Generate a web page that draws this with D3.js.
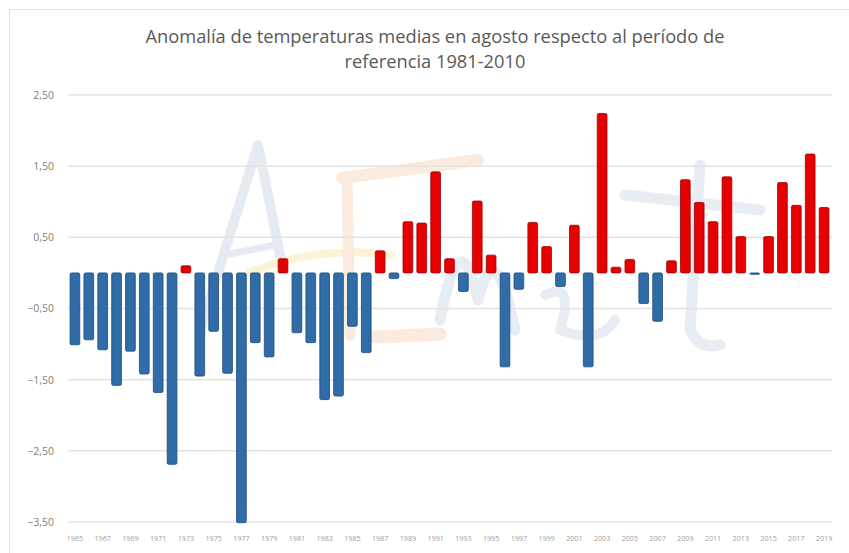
<!DOCTYPE html>
<html>
<head>
<meta charset="utf-8">
<script src="https://cdn.jsdelivr.net/npm/d3@7"></script>
<style>
  body { margin: 0; background: #fff; }
  text { font-family: "Open Sans", "DejaVu Sans", sans-serif; }
</style>
</head>
<body>
<script>
// anomalias agosto, respecto 1981-2010
var years = d3.range(1965, 2020);
var anomalies = [
  -1.01, -0.94, -1.08, -1.58, -1.10, -1.42, -1.68, -2.69, 0.10, -1.45,
  -0.82, -1.41, -3.51, -0.98, -1.18, 0.20, -0.84, -0.98, -1.78, -1.73,
  -0.75, -1.12, 0.31, -0.08, 0.72, 0.70, 1.42, 0.20, -0.26, 1.01,
  0.25, -1.32, -0.23, 0.71, 0.37, -0.19, 0.67, -1.32, 2.24, 0.08,
  0.19, -0.43, -0.68, 0.17, 1.31, 0.99, 0.72, 1.35, 0.51, -0.02,
  0.51, 1.27, 0.95, 1.67, 0.92
];
var yTicks = [-3.5, -2.5, -1.5, -0.5, 0.5, 1.5, 2.5];
var xLabels = years.filter(function(y, i) { return i % 2 == 0; });
var titleLines = ["Anomalía de temperaturas medias en agosto respecto al período de", "referencia 1981-2010"];

var width = 849, height = 553;
var svg = d3.select("body").append("svg")
    .attr("width", width)
    .attr("height", height);

// marco
svg.append("rect")
    .attr("x", 9.5).attr("y", 9.5)
    .attr("width", width + 20).attr("height", height + 20)
    .attr("fill", "none")
    .attr("stroke", "#e4e4e4");

// marca de agua (logo muy tenue)
var wm = svg.append("g").attr("fill", "none").attr("opacity", 0.55)
    .attr("stroke-linecap", "round").attr("stroke-linejoin", "round");
wm.append("path").attr("d", "M200,330 L258,145 L282,265").attr("stroke", "#d3dcea").attr("stroke-width", 10);
wm.append("path").attr("d", "M225,255 L275,245").attr("stroke", "#d3dcea").attr("stroke-width", 7);
wm.append("path").attr("d", "M250,272 Q320,245 390,255").attr("stroke", "#fbe9b5").attr("stroke-width", 8);
wm.append("path").attr("d", "M342,178 L478,160").attr("stroke", "#f8d9c4").attr("stroke-width", 12);
wm.append("path").attr("d", "M347,180 L350,335").attr("stroke", "#f8d9c4").attr("stroke-width", 11);
wm.append("path").attr("d", "M375,337 L440,334").attr("stroke", "#f8d9c4").attr("stroke-width", 13);
wm.append("path").attr("d", "M440,320 Q460,215 478,300 Q495,230 515,330").attr("stroke", "#d7dfeb").attr("stroke-width", 11);
wm.append("path").attr("d", "M545,295 Q575,280 560,330 Q600,345 615,320").attr("stroke", "#d7dfeb").attr("stroke-width", 10);
wm.append("path").attr("d", "M700,165 L690,330 Q700,350 720,345").attr("stroke", "#d7dfeb").attr("stroke-width", 11);
wm.append("path").attr("d", "M625,195 L760,210").attr("stroke", "#d7dfeb").attr("stroke-width", 11);

var x = d3.scaleBand()
    .domain(years)
    .range([68, 831])
    .paddingInner(0.3)
    .paddingOuter(0.15);

var y = d3.scaleLinear()
    .domain([-3.5, 2.5])
    .range([522, 95]);

// rejilla
svg.append("g").selectAll("line")
  .data(yTicks)
  .enter().append("line")
    .attr("x1", 68).attr("x2", 832)
    .attr("y1", function(d) { return y(d); })
    .attr("y2", function(d) { return y(d); })
    .attr("stroke", "#e3e3e3")
    .attr("stroke-width", 1.5);

var yAxis = svg.append("g")
    .attr("transform", "translate(60,0)")
    .call(d3.axisLeft(y).tickValues(yTicks).tickSize(0).tickPadding(6)
      .tickFormat(function(d) { return d3.format(".2f")(d).replace(".", ","); }));
yAxis.select(".domain").remove();
yAxis.selectAll("text")
    .attr("fill", "#7f7f7f")
    .attr("font-size", "10.5px");

var xAxis = svg.append("g")
    .attr("transform", "translate(0,531)")
    .call(d3.axisBottom(x).tickValues(xLabels).tickSize(0).tickPadding(5));
xAxis.select(".domain").remove();
xAxis.selectAll("text")
    .attr("fill", "#a0a0a0")
    .attr("font-size", "7.2px");

// barras
var data = years.map(function(yr, i) { return {year: yr, value: anomalies[i]}; });
svg.append("g").selectAll("rect")
  .data(data)
  .enter().append("rect")
    .attr("x", function(d) { return x(d.year); })
    .attr("width", x.bandwidth())
    .attr("y", function(d) { return y(Math.max(0, d.value)); })
    .attr("height", function(d) { return Math.abs(y(d.value) - y(0)); })
    .attr("rx", 1.5)
    .attr("fill", function(d) { return d.value >= 0 ? "#e60000" : "#2f6ca8"; })
    .attr("stroke", function(d) { return d.value >= 0 ? "#9e0000" : "#1d4a78"; })
    .attr("stroke-width", 0.8);

svg.append("g").selectAll("text")
  .data(titleLines)
  .enter().append("text")
    .attr("x", 435)
    .attr("y", function(d, i) { return 43 + i * 25; })
    .attr("text-anchor", "middle")
    .attr("fill", "#595959")
    .attr("font-size", "18.3px")
    .text(function(d) { return d; });
</script>
</body>
</html>
